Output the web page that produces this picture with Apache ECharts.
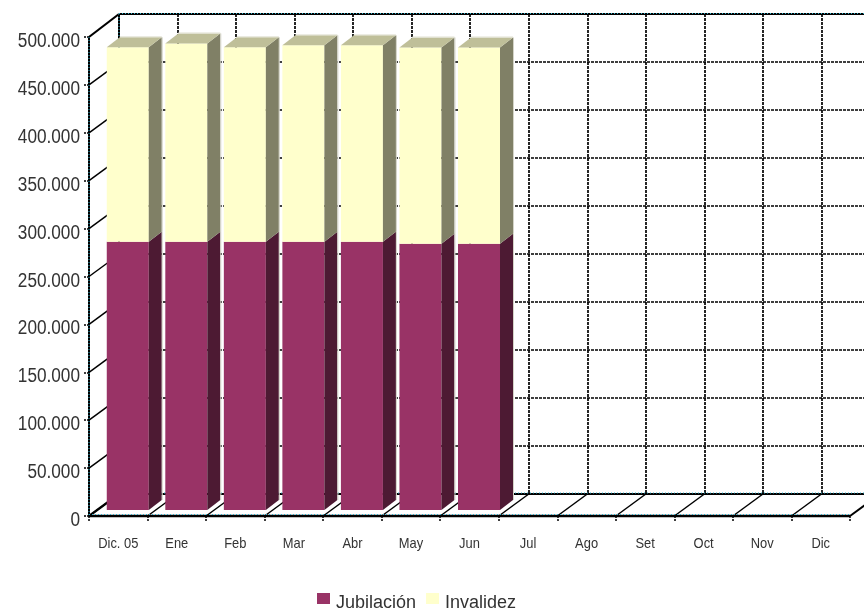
<!DOCTYPE html>
<html><head><meta charset="utf-8">
<style>html,body{margin:0;padding:0;background:#fff}#c{width:864px;height:612px}</style>
<script src="https://cdn.jsdelivr.net/npm/echarts@6/dist/echarts.min.js"></script>
</head><body><div id="c"></div>
<script>
const categories = ['Dic. 05','Ene','Feb','Mar','Abr','May','Jun','Jul','Ago','Set','Oct','Nov','Dic'];
const jubilacion = [280000,280000,280000,280000,280000,278000,278000];
const invalidez = [203000,207000,203000,205000,205000,204800,204800];
const yMax = 500000, yStep = 50000;
const yTicks = []; for (let v = 0; v <= yMax; v += yStep) yTicks.push(v);

const DX = 30, DY = -22, BX = 9.5, BY = -6, BDX = 13, BDY = -10, BARW = 42, SX = 0.86;
const FONT = '"Liberation Sans",Arial,sans-serif';
const chart = echarts.init(document.getElementById('c'), null, {renderer:'canvas'});
const fmt = v => String(v).replace(/\B(?=(\d{3})+$)/g,'.');

function bar(front, side, top) {
  return function (params, api) {
    const c0 = api.coord([api.value(0), api.value(1)]);
    const c1 = api.coord([api.value(0), api.value(2)]);
    const xl = c0[0] + BX - BARW / 2, xr = xl + BARW;
    const yb = c0[1] + BY, yt = c1[1] + BY;
    const children = [
      {type:'rect', shape:{x:xl, y:yt, width:BARW, height:yb-yt}, style:{fill:front}},
      {type:'polygon', shape:{points:[[xr,yt],[xr+BDX,yt+BDY],[xr+BDX,yb+BDY],[xr,yb]]}, style:{fill:side}},
      {type:'line', shape:{x1:xr+BDX+0.5,y1:yt+BDY,x2:xr+BDX+0.5,y2:yb+BDY}, style:{stroke:'#d4d4c8',lineWidth:1}}
    ];
    if (api.value(3)) children.push(
      {type:'polygon', shape:{points:[[xl,yt],[xl+BDX,yt+BDY],[xr+BDX,yt+BDY],[xr,yt]]}, style:{fill:top}},
      {type:'line', shape:{x1:xl+BDX,y1:yt+BDY-0.5,x2:xr+BDX,y2:yt+BDY-0.5}, style:{stroke:'#e2e2d4',lineWidth:1}}
    );
    return {type:'group', children};
  };
}
const cum = jubilacion.map((v,i)=>v+invalidez[i]);

function wallRender(params, api) {
  const v = api.value(0);
  const p = api.coord([0, v]);
  const x = p[0] - api.size([1,0])[0] / 2, y = p[1];
  const end = v === yMax ? y + DY - 1 : y + DY;
  return {type:'line', shape:{x1:x, y1:y, x2:x+DX, y2:end}, style:{stroke:'#000', lineWidth: (v===0||v===yMax)?2.2:1.5}};
}
function floorRender(params, api) {
  const p = api.coord([api.value(0), 0]);
  const x = p[0] - api.size([1,0])[0] / 2, y = p[1];
  return {type:'line', shape:{x1:x, y1:y, x2:x+DX, y2:y+DY}, style:{stroke:'#000', lineWidth:1.5}};
}
function frameRender(params, api) {
  const a = api.coord([0, 0]), b = api.coord([12, yMax]), w = api.size([1,0])[0];
  const xl = a[0]-w/2, xr = b[0]+w/2, yb = a[1], yt = b[1];
  const TY = DY - 1;
  const black = (x1,y1,x2,y2,lw)=>({type:'line',shape:{x1,y1,x2,y2},style:{stroke:'#000',lineWidth:lw}});
  const dots = (x1,y1,x2,y2)=>({type:'line',shape:{x1,y1,x2,y2},style:{stroke:'#2fb0cc',lineWidth:1,lineDash:[1,2]}});
  return {type:'group', children:[
    black(xl,yt,xl,yb,2), dots(xl,yt,xl,yb),
    black(xl+DX,yt+TY,xl+DX,yb+DY,2), dots(xl+DX,yt+TY,xl+DX,yb+DY),
    black(xl+DX,yt+TY,xr+DX,yt+TY,2), dots(xl+DX,yt+TY-0.5,xr+DX,yt+TY-0.5),
    black(xl+DX,yb+DY,xr+DX,yb+DY,2), dots(xl+DX,yb+DY-1,xr+DX,yb+DY-1),
    black(xl,yb,xr,yb,2.4), dots(xl,yb-1.5,xr,yb-1.5),
    black(xr,yb,xr+DX,yb+DY,2)
  ]};
}
function yLabelRender(params, api) {
  const v = api.value(0);
  const p = api.coord([0, v]);
  return {type:'text', x:p[0]-api.size([1,0])[0]/2-9, y:p[1]+4.5, scaleX:SX,
    style:{text:fmt(v), font:'20px '+FONT, fill:'#333', textAlign:'right', textVerticalAlign:'middle'}};
}
function xLabelRender(params, api) {
  const p = api.coord([api.value(0), 0]);
  return {type:'text', x:p[0], y:p[1]+28, scaleX:SX,
    style:{text:categories[params.dataIndex], font:'15px '+FONT, fill:'#333', textAlign:'center', textVerticalAlign:'middle'}};
}

chart.setOption({
  animation:false,
  backgroundColor:'#fff',
  textStyle:{fontFamily:FONT},
  legend:{
    top:593, left:317, itemGap:10, itemWidth:13, itemHeight:11, icon:'rect',
    selectedMode:false, padding:0,
    data:[{name:'Jubilación',itemStyle:{color:'#993366'}},{name:'Invalidez',itemStyle:{color:'#FFFFCC'}}],
    formatter:'{t|{name}}',
    textStyle:{fontFamily:FONT,fontSize:18,color:'#333',
      rich:{t:{fontFamily:FONT,fontSize:18,color:'#333',padding:[9,0,0,1]}}}
  },
  grid:[
    {left:89, top:37, width:761, height:479, outerBoundsMode:'none'},
    {left:119, top:14, width:761, height:480, outerBoundsMode:'none'}
  ],
  xAxis:[
    {gridIndex:0,type:'category',data:categories,boundaryGap:true,
     axisLine:{show:false},
     axisTick:{show:true,alignWithLabel:false,length:6,lineStyle:{color:'#000',width:1.5,type:[2,1]}},
     axisLabel:{show:false},
     splitLine:{show:false}},
    {gridIndex:1,type:'category',data:categories,boundaryGap:true,
     axisLine:{show:false},axisTick:{show:false},axisLabel:{show:false},
     splitLine:{show:true,interval:0,lineStyle:{color:'#000',width:1.7,type:[3,1]}}}
  ],
  yAxis:[
    {gridIndex:0,type:'value',min:0,max:yMax,interval:yStep,
     axisLine:{show:false},
     axisTick:{show:true,length:6,lineStyle:{color:'#000',width:1.5,type:[2,1]}},
     axisLabel:{show:false},
     splitLine:{show:false}},
    {gridIndex:1,type:'value',min:0,max:yMax,interval:yStep,
     axisLine:{show:false},axisTick:{show:false},axisLabel:{show:false},
     splitLine:{show:true,lineStyle:{color:'#000',width:1.7,type:[3,1]}}}
  ],
  series:[
    {type:'custom',name:'wall',xAxisIndex:0,yAxisIndex:0,z:1,silent:true,clip:false,
     renderItem:wallRender,encode:{x:1,y:0},data:yTicks.map(v=>[v,0])},
    {type:'custom',name:'floor',xAxisIndex:0,yAxisIndex:0,z:1,silent:true,clip:false,
     renderItem:floorRender,encode:{x:0,y:1},data:categories.map((c,i)=>[i,0])},
    {type:'custom',name:'frame',xAxisIndex:0,yAxisIndex:0,z:2,silent:true,clip:false,
     renderItem:frameRender,encode:{x:0,y:1},data:[[0,0]]},
    {type:'custom',name:'yLabels',xAxisIndex:0,yAxisIndex:0,z:7,silent:true,clip:false,
     renderItem:yLabelRender,encode:{x:1,y:0},data:yTicks.map(v=>[v,0])},
    {type:'custom',name:'xLabels',xAxisIndex:0,yAxisIndex:0,z:7,silent:true,clip:false,
     renderItem:xLabelRender,encode:{x:0,y:1},data:categories.map((c,i)=>[i,0])},
    {type:'custom',name:'Jubilación',xAxisIndex:0,yAxisIndex:0,z:5,clip:false,
     itemStyle:{color:'#993366'},
     renderItem:bar('#993366','#4D1A33','#993366'),encode:{x:0,y:[1,2]},
     data:jubilacion.map((v,i)=>[i,0,v,0])},
    {type:'custom',name:'Invalidez',xAxisIndex:0,yAxisIndex:0,z:6,clip:false,
     itemStyle:{color:'#FFFFCC'},
     renderItem:bar('#FFFFCC','#808066','#BFBF99'),encode:{x:0,y:[1,2]},
     data:invalidez.map((v,i)=>[i,jubilacion[i],cum[i],1])}
  ]
});
</script></body></html>
